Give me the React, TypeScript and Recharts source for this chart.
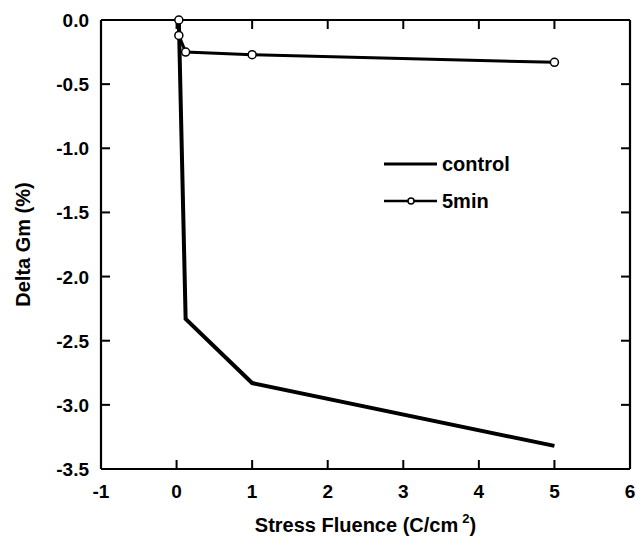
import React from 'react';
import { LineChart, Line, XAxis, YAxis, Legend, Label, ReferenceLine } from 'recharts';

// Stress fluence (C/cm^2) vs. transconductance shift
const controlX = [0.03, 0.12, 1, 5];
const controlY = [0, -2.33, -2.83, -3.32];
const fiveMinX = [0.03, 0.03, 0.12, 1, 5];
const fiveMinY = [0, -0.12, -0.25, -0.27, -0.33];

const xTicks = [-1, 0, 1, 2, 3, 4, 5, 6];
const yTicks = [0, -0.5, -1, -1.5, -2, -2.5, -3, -3.5];

const controlData = controlX.map((x, i) => ({ x, y: controlY[i] }));
const fiveMinData = fiveMinX.map((x, i) => ({ x, y: fiveMinY[i] }));

const FONT = '"Liberation Sans", Arial, sans-serif';
const TICK_LEN = 9;
const frame = { stroke: '#000', strokeWidth: 2.2 };

const BottomTick = (props: any) => {
  const { x, y, payload } = props;
  return (
    <text
      x={x}
      y={y + 29}
      textAnchor="middle"
      fontFamily={FONT}
      fontWeight="bold"
      fontSize={19}
      fill="#000"
    >
      {payload.value}
    </text>
  );
};

const LeftTick = (props: any) => {
  const { x, y, payload } = props;
  return (
    <text
      x={x - 12}
      y={y + 7}
      textAnchor="end"
      fontFamily={FONT}
      fontWeight="bold"
      fontSize={19}
      fill="#000"
    >
      {Number(payload.value).toFixed(1)}
    </text>
  );
};

// inward tick marks at both ends of a full-height / full-width reference line
const VTicks = (p: any) => {
  const top = Math.min(p.y1, p.y2);
  const bot = Math.max(p.y1, p.y2);
  return (
    <g>
      <line x1={p.x1} x2={p.x1} y1={top} y2={top + TICK_LEN} stroke="#000" strokeWidth={2} />
      <line x1={p.x1} x2={p.x1} y1={bot} y2={bot - TICK_LEN} stroke="#000" strokeWidth={2} />
    </g>
  );
};

const HTicks = (p: any) => {
  const left = Math.min(p.x1, p.x2);
  const right = Math.max(p.x1, p.x2);
  return (
    <g>
      <line x1={left} x2={left + TICK_LEN} y1={p.y1} y2={p.y1} stroke="#000" strokeWidth={2} />
      <line x1={right} x2={right - TICK_LEN} y1={p.y1} y2={p.y1} stroke="#000" strokeWidth={2} />
    </g>
  );
};

const XTitle = (props: any) => {
  const { viewBox } = props;
  const cx = viewBox.x + viewBox.width / 2;
  return (
    <text
      x={cx}
      y={532}
      textAnchor="middle"
      fontFamily={FONT}
      fontWeight="bold"
      fontSize={20}
      fill="#000"
    >
      Stress Fluence (C/cm
      <tspan fontSize={13} dx={4} dy={-9}>
        2
      </tspan>
      <tspan dy={9}>)</tspan>
    </text>
  );
};

const YTitle = (props: any) => {
  const { viewBox } = props;
  const cy = viewBox.y + viewBox.height / 2;
  return (
    <text
      x={0}
      y={0}
      transform={`translate(30, ${cy}) rotate(-90)`}
      textAnchor="middle"
      fontFamily={FONT}
      fontWeight="bold"
      fontSize={20}
      fill="#000"
    >
      Delta Gm (%)
    </text>
  );
};

const renderLegend = () => (
  <svg width={140} height={70} style={{ display: 'block' }}>
    <line x1={4} y1={14} x2={57} y2={14} stroke="#000" strokeWidth={3} />
    <text x={62} y={21} fontFamily={FONT} fontWeight="bold" fontSize={20} fill="#000">
      control
    </text>
    <line x1={4} y1={51} x2={57} y2={51} stroke="#000" strokeWidth={2.5} />
    <circle cx={31} cy={51} r={3} fill="#fff" stroke="#000" strokeWidth={1.5} />
    <text x={62} y={58} fontFamily={FONT} fontWeight="bold" fontSize={20} fill="#000">
      5min
    </text>
  </svg>
);

const App: React.FC = () => {
  return (
    <div style={{ position: 'absolute', left: 0, top: 0 }}>
      <LineChart
        width={636}
        height={537}
        margin={{ top: 20, right: 6, left: 41, bottom: 28 }}
      >
        <XAxis
          xAxisId="b"
          type="number"
          dataKey="x"
          domain={[-1, 6]}
          ticks={xTicks}
          height={40}
          tickSize={0}
          tickMargin={0}
          tickLine={false}
          axisLine={frame}
          tick={<BottomTick />}
        >
          <Label content={<XTitle />} />
        </XAxis>
        <YAxis
          yAxisId="l"
          type="number"
          dataKey="y"
          domain={[-3.5, 0]}
          ticks={yTicks}
          width={60}
          tickSize={0}
          tickMargin={0}
          tickLine={false}
          axisLine={frame}
          tick={<LeftTick />}
        >
          <Label content={<YTitle />} />
        </YAxis>
        {/* top and right sides of the frame */}
        <ReferenceLine xAxisId="b" yAxisId="l" y={0} stroke="#000" strokeWidth={2.2} />
        <ReferenceLine xAxisId="b" yAxisId="l" x={6} stroke="#000" strokeWidth={2.2} />
        {xTicks.map((t) => (
          <ReferenceLine key={`xt${t}`} xAxisId="b" yAxisId="l" x={t} shape={VTicks} />
        ))}
        {yTicks.map((t) => (
          <ReferenceLine key={`yt${t}`} xAxisId="b" yAxisId="l" y={t} shape={HTicks} />
        ))}
        <Legend
          layout="vertical"
          align="center"
          verticalAlign="middle"
          content={renderLegend}
          wrapperStyle={{ left: 380, top: 150 }}
        />
        <Line
          xAxisId="b"
          yAxisId="l"
          data={controlData}
          dataKey="y"
          stroke="#000"
          strokeWidth={4}
          dot={false}
          isAnimationActive={false}
        />
        <Line
          xAxisId="b"
          yAxisId="l"
          data={fiveMinData}
          dataKey="y"
          stroke="#000"
          strokeWidth={3}
          dot={{ r: 4, fill: '#fff', stroke: '#000', strokeWidth: 1.5 }}
          isAnimationActive={false}
        />
      </LineChart>
    </div>
  );
};

export default App;
